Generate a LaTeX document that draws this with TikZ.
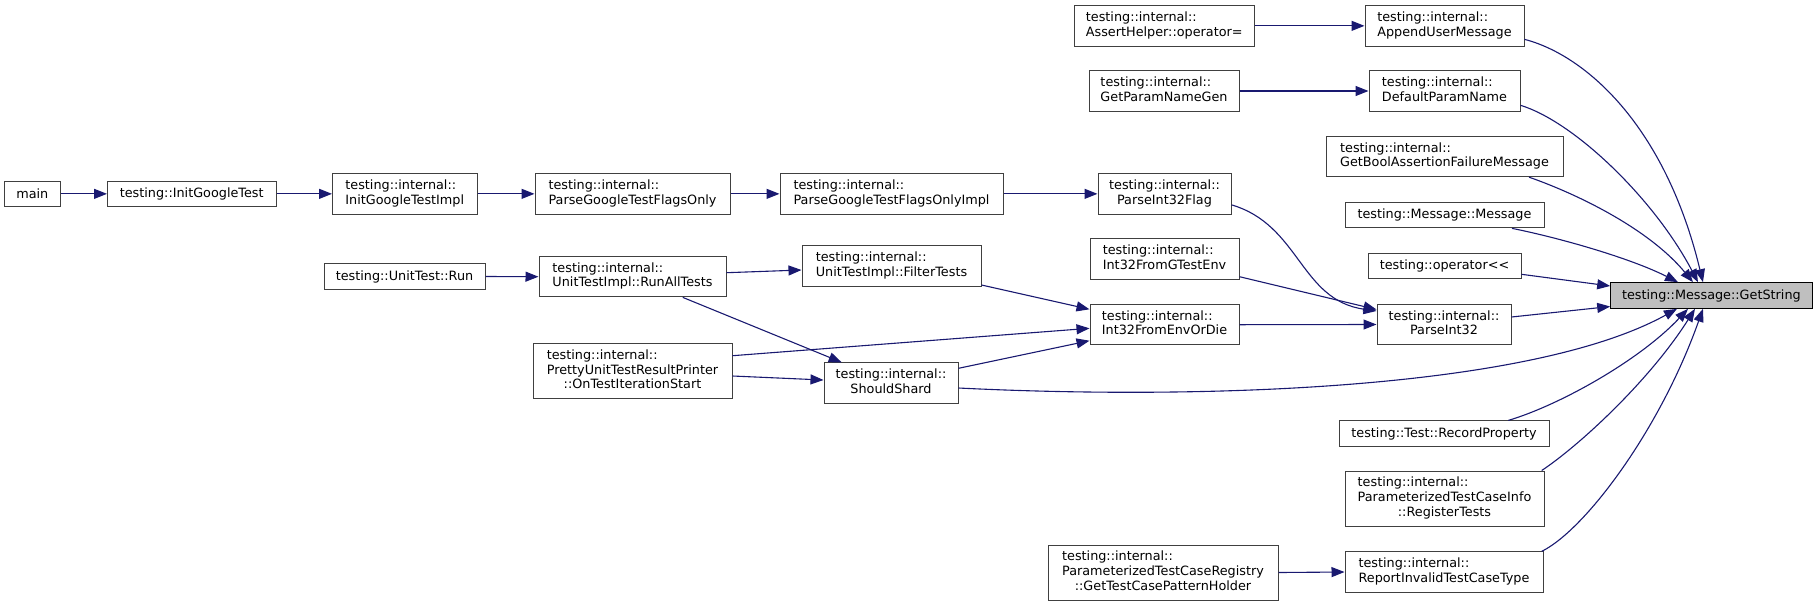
\documentclass[tikz,border=0pt]{standalone}
\usepackage{fontspec}
\setmainfont{DejaVu Sans}
\usetikzlibrary{arrows.meta,calc}
\definecolor{edgeblue}{HTML}{191970}
\definecolor{boxline}{HTML}{404040}
\definecolor{hilite}{HTML}{BFBFBF}
\newcommand\twoline[2]{\begin{tabular}{@{}l@{}}#1\\\multicolumn{1}{@{}c@{}}{#2}\end{tabular}}
\newcommand\threeline[3]{\begin{tabular}{@{}l@{}}#1\\#2\\\multicolumn{1}{@{}c@{}}{#3}\end{tabular}}
\begin{document}
\begin{tikzpicture}[x=1pt,y=-1pt,
  fnbox/.style={draw=boxline, line width=1pt, fill=white, inner sep=0pt,
    font=\fontsize{12.8}{14.7}\selectfont, minimum height=25.7pt},
  twobox/.style={fnbox, minimum height=40.3pt},
  threebox/.style={fnbox, minimum height=55pt},
  mainbox/.style={fnbox, draw=black, fill=hilite},
  edge/.style={draw=edgeblue, line width=1.1pt, -{Triangle[length=13pt,width=10pt]}}
]
\useasboundingbox (0,0) rectangle (1819,606);
% column 0-1
\node[fnbox, minimum width=55.3pt] (main) at (32.35,193.85) {main};
\node[fnbox, minimum width=168.5pt] (igt) at (191.75,193.85) {testing::InitGoogleTest};
% column 2
\node[twobox, minimum width=144.5pt] (igti) at (404.75,193.85) {\twoline{testing::internal::}{InitGoogleTestImpl}};
\node[fnbox, minimum width=161pt] (utr) at (404.5,276.5) {testing::UnitTest::Run};
% column 3
\node[twobox, minimum width=195pt] (pgtfo) at (632.5,193.85) {\twoline{testing::internal::}{ParseGoogleTestFlagsOnly}};
\node[twobox, minimum width=187pt] (rat) at (632.5,276.7) {\twoline{testing::internal::}{UnitTestImpl::RunAllTests}};
\node[threebox, minimum width=199pt] (pretty) at (632.5,371.2) {\threeline{testing::internal::}{PrettyUnitTestResultPrinter}{::OnTestIterationStart}};
% column 4
\node[twobox, minimum width=223pt] (pgtfoi) at (891.5,193.85) {\twoline{testing::internal::}{ParseGoogleTestFlagsOnlyImpl}};
\node[twobox, minimum width=179pt] (ft) at (891.5,266) {\twoline{testing::internal::}{UnitTestImpl::FilterTests}};
\node[twobox, minimum width=134pt] (ss) at (891,383) {\twoline{testing::internal::}{ShouldShard}};
% column 5
\node[twobox, minimum width=179.5pt] (ah) at (1164.25,25.85) {\twoline{testing::internal::}{AssertHelper::operator=}};
\node[twobox, minimum width=150pt] (gpng) at (1164,91) {\twoline{testing::internal::}{GetParamNameGen}};
\node[twobox, minimum width=133pt] (pi32f) at (1164.5,193.85) {\twoline{testing::internal::}{ParseInt32Flag}};
\node[twobox, minimum width=149pt] (i32g) at (1164.5,259) {\twoline{testing::internal::}{Int32FromGTestEnv}};
\node[twobox, minimum width=149pt] (i32e) at (1164.5,324.7) {\twoline{testing::internal::}{Int32FromEnvOrDie}};
\node[threebox, minimum width=230pt] (gtcph) at (1163,572.5) {\threeline{testing::internal::}{ParameterizedTestCaseRegistry}{::GetTestCasePatternHolder}};
% column 6
\node[twobox, minimum width=159pt] (aum) at (1444.5,25.85) {\twoline{testing::internal::}{AppendUserMessage}};
\node[twobox, minimum width=151pt] (dpn) at (1444.5,91) {\twoline{testing::internal::}{DefaultParamName}};
\node[twobox, minimum width=237pt] (gbafm) at (1444.5,156.5) {\twoline{testing::internal::}{GetBoolAssertionFailureMessage}};
\node[fnbox, minimum width=199pt] (mm) at (1444.5,215) {testing::Message::Message};
\node[fnbox, minimum width=153pt] (op) at (1444.5,266) {testing::operator<\kern0pt<};
\node[twobox, minimum width=134pt] (pi32) at (1444,324.5) {\twoline{testing::internal::}{ParseInt32}};
\node[fnbox, minimum width=210pt] (rp) at (1444,433.75) {testing::Test::RecordProperty};
\node[threebox, minimum width=199pt] (rt) at (1444.5,498.5) {\threeline{testing::internal::}{ParameterizedTestCaseInfo}{::RegisterTests}};
\node[twobox, minimum width=198pt] (rit) at (1444,572) {\twoline{testing::internal::}{ReportInvalidTestCaseType}};
% column 7
\node[mainbox, minimum width=201.3pt] (gs) at (1711.35,295.5) {testing::Message::GetString};
% edges
\draw[edge] (main.east) -- (igt.west);
\draw[edge] (igt.east) -- (igti.west);
\draw[edge] (igti.east) -- (pgtfo.west);
\draw[edge] (pgtfo.east) -- (pgtfoi.west);
\draw[edge] (pgtfoi.east) -- (pi32f.west);
\draw[edge] ($(pi32f.east)+(0,11)$) .. controls (1300,225) and (1300,300) .. ($(pi32.west)+(0,-13.5)$);
\draw[edge] (ah.east) -- (aum.west);
\draw[edge] (gpng.east) -- (dpn.west);
\draw[edge] ($(aum.east)+(0,13.5)$) .. controls (1585,55) and (1665,125) .. ($(gs.north)+(-8.4,0)$);
\draw[edge] ($(dpn.east)+(0,14.3)$) .. controls (1575,122) and (1655,200) .. ($(gs.north)+(-13.4,0)$);
\draw[edge] ($(gbafm.south)+(84.5,0)$) .. controls (1580,195) and (1650,230) .. ($(gs.north)+(-18.4,0)$);
\draw[edge] ($(mm.south)+(67.5,0)$) .. controls (1560,238) and (1630,258) .. ($(gs.north)+(-33.4,0)$);
\draw[edge] ($(op.east)+(0,8.3)$) -- ($(gs.west)+(0,-9.5)$);
\draw[edge] ($(pi32.east)+(0,-7.5)$) -- ($(gs.west)+(0,11)$);
\draw[edge] ($(ss.east)+(0,5)$) .. controls (1200,400) and (1530,390) .. ($(gs.south)+(-34.4,0)$);
\draw[edge] ($(rp.north)+(64.3,0)$) .. controls (1560,405) and (1640,360) .. ($(gs.south)+(-23.4,0)$);
\draw[edge] ($(rt.north)+(97.2,0)$) .. controls (1580,445) and (1650,380) .. ($(gs.south)+(-16.4,0)$);
\draw[edge] ($(rit.north)+(97.7,0)$) .. controls (1585,530) and (1660,430) .. ($(gs.south)+(-8.4,0)$);
\draw[edge] (utr.east) -- (rat.west);
\draw[edge] ($(rat.east)+(0,-4)$) -- ($(ft.west)+(0,4)$);
\draw[edge] ($(rat.south)+(50.2,0)$) -- ($(ss.north)+(-49.3,0)$);
\draw[edge] ($(ft.east)+(0,19)$) -- ($(i32e.west)+(0,-15.4)$);
\draw[edge] ($(pretty.east)+(0,-15.5)$) -- ($(i32e.west)+(0,3.6)$);
\draw[edge] ($(pretty.east)+(0,4.8)$) -- ($(ss.west)+(0,-3)$);
\draw[edge] ($(ss.east)+(0,-14.7)$) -- ($(i32e.west)+(0,16)$);
\draw[edge] ($(i32g.east)+(0,17.7)$) -- ($(pi32.west)+(0,-15)$);
\draw[edge] (i32e.east) -- (pi32.west);
\draw[edge] (gtcph.east) -- (rit.west);
\end{tikzpicture}
\end{document}
